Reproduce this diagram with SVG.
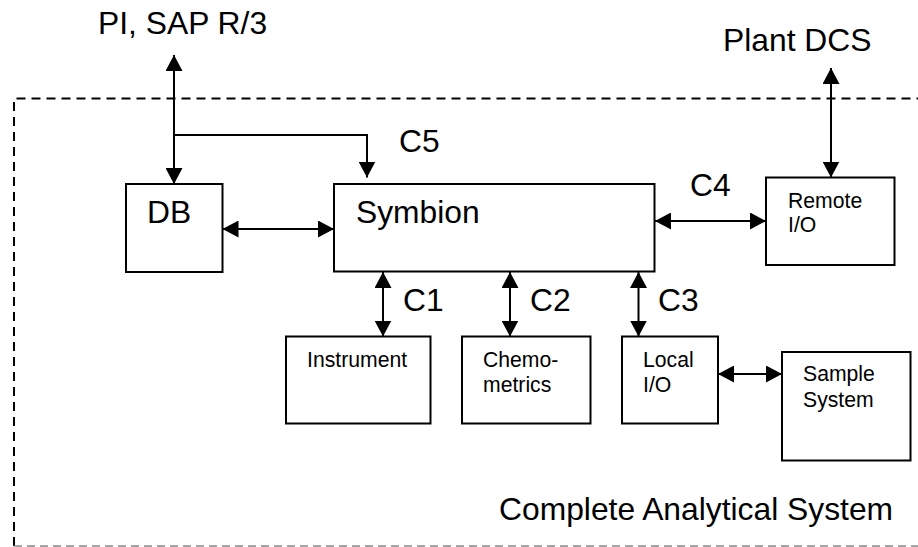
<svg xmlns="http://www.w3.org/2000/svg" width="918" height="547" viewBox="0 0 918 547">
<style>
.box{fill:#fff;stroke:#000;stroke-width:2}
.big{font-family:"Liberation Sans",Arial,sans-serif;font-size:31.8px;fill:#000}
.small{font-family:"Liberation Sans",Arial,sans-serif;font-size:21.2px;fill:#000}
.con{fill:none;stroke:#000;stroke-width:2}
</style>
<defs>
<marker id="ah" markerUnits="userSpaceOnUse" markerWidth="16" markerHeight="17" viewBox="0 0 16 17" refX="16" refY="8.5" orient="auto-start-reverse">
<path d="M0,0 L16,8.5 L0,17 z" fill="#000"/>
</marker>
</defs>
<rect width="918" height="547" fill="#fff"/>
<g id="boundary">
<path d="M14,546 V98.5 H918" fill="none" stroke="#000" stroke-width="2" stroke-dasharray="9 6"/>
<path d="M14,546 H918" fill="none" stroke="#888" stroke-width="1.5" stroke-dasharray="8 5"/>
<text class="big" x="499" y="520">Complete Analytical System</text>
</g>
<g id="labels">
<text class="big" x="98" y="34">PI, SAP R/3</text>
<text class="big" x="723" y="51">Plant DCS</text>
<text class="big" x="399" y="152">C5</text>
<text class="big" x="690" y="196">C4</text>
<text class="big" x="403" y="311">C1</text>
<text class="big" x="530" y="311">C2</text>
<text class="big" x="658" y="311">C3</text>
</g>
<g id="connectors">
<line class="con" x1="174" y1="55" x2="174" y2="184" marker-start="url(#ah)" marker-end="url(#ah)"/>
<path class="con" d="M174,135 H367 V177.5" marker-end="url(#ah)"/>
<line class="con" x1="222.5" y1="229" x2="334" y2="229" marker-start="url(#ah)" marker-end="url(#ah)"/>
<line class="con" x1="655" y1="221" x2="766" y2="221" marker-start="url(#ah)" marker-end="url(#ah)"/>
<line class="con" x1="831" y1="68" x2="831" y2="177.5" marker-start="url(#ah)" marker-end="url(#ah)"/>
<line class="con" x1="383" y1="272" x2="383" y2="336.5" marker-start="url(#ah)" marker-end="url(#ah)"/>
<line class="con" x1="510" y1="272" x2="510" y2="336.5" marker-start="url(#ah)" marker-end="url(#ah)"/>
<line class="con" x1="638.5" y1="272" x2="638.5" y2="336.5" marker-start="url(#ah)" marker-end="url(#ah)"/>
<line class="con" x1="718" y1="374" x2="782" y2="374" marker-start="url(#ah)" marker-end="url(#ah)"/>
</g>
<g id="db">
<rect class="box" x="126" y="184" width="96.5" height="88"/>
<text class="big" x="147" y="223">DB</text>
</g>
<g id="symbion">
<rect class="box" x="334" y="184" width="320.5" height="87.5"/>
<text class="big" x="356" y="223">Symbion</text>
</g>
<g id="remote-io">
<rect class="box" x="766" y="177.5" width="128.5" height="87.5"/>
<text class="small" x="788" y="207.5">Remote</text>
<text class="small" x="788" y="232">I/O</text>
</g>
<g id="instrument">
<rect class="box" x="286" y="336.5" width="144.5" height="87"/>
<text class="small" x="307" y="366.5">Instrument</text>
</g>
<g id="chemometrics">
<rect class="box" x="462" y="336.5" width="128.5" height="87"/>
<text class="small" x="483" y="366.5">Chemo-</text>
<text class="small" x="483" y="391.5">metrics</text>
</g>
<g id="local-io">
<rect class="box" x="622" y="336.5" width="96" height="87"/>
<text class="small" x="643" y="366.5">Local</text>
<text class="small" x="643" y="391.5">I/O</text>
</g>
<g id="sample-system">
<rect class="box" x="782" y="352" width="128.5" height="108.5"/>
<text class="small" x="803" y="380.5">Sample</text>
<text class="small" x="803" y="406.5">System</text>
</g>
</svg>
